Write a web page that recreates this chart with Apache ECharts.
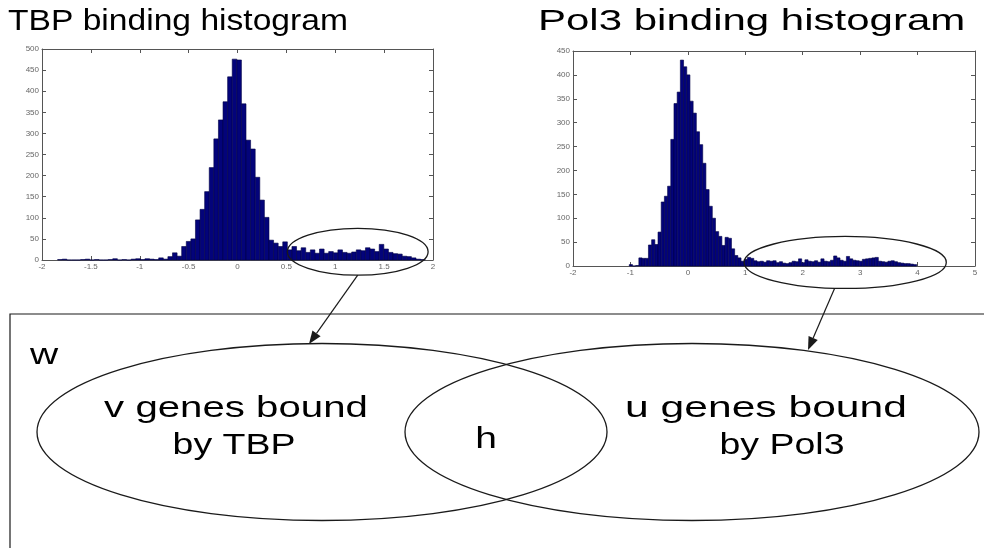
<!DOCTYPE html>
<html>
<head>
<meta charset="utf-8">
<script src="https://cdn.jsdelivr.net/npm/echarts@6/dist/echarts.min.js"></script>
<style>
  html, body { margin: 0; padding: 0; background: #fff; }
  #chart { width: 984px; height: 548px; }
</style>
</head>
<body>
<div id="chart"></div>
<script>
// TBP binding scores: 80 equal-width bins, counts per bin
const tbpBinStart = -1.84;
const tbpBinWidth = 0.047;
const tbpCounts = [
  1, 2, 0, 0, 0, 1, 2, 0, 1, 0,
  0, 1, 3, 0, 1, 0, 2, 3, 1, 3,
  2, 1, 5, 2, 8, 17, 9, 32, 44, 50,
  95, 120, 162, 219, 287, 332, 375, 434, 476, 474,
  370, 284, 263, 196, 142, 101, 47, 40, 32, 43,
  24, 32, 22, 29, 18, 24, 16, 26, 16, 20,
  17, 24, 18, 16, 19, 24, 22, 29, 26, 20,
  37, 26, 18, 15, 14, 9, 8, 5, 2, 1
];

// Pol3 binding scores: 90 equal-width bins, counts per bin
const pol3BinStart = -1.02;
const pol3BinWidth = 0.0556;
const pol3Counts = [
  3, 0, 1, 17, 16, 16, 44, 55, 45, 71,
  134, 146, 167, 265, 340, 364, 431, 417, 400, 345,
  320, 281, 254, 215, 160, 125, 100, 72, 62, 43,
  60, 58, 36, 22, 17, 10, 14, 18, 16, 11,
  9, 10, 8, 11, 10, 11, 7, 9, 6, 5,
  7, 10, 9, 15, 7, 13, 10, 9, 11, 8,
  15, 10, 9, 12, 21, 17, 12, 10, 20, 15,
  12, 11, 10, 14, 15, 16, 17, 18, 10, 9,
  8, 10, 11, 9, 7, 6, 5, 5, 4, 3
];

// Axis ranges and tick steps
const tbpXRange = [-2, 2], tbpXStep = 0.5;
const tbpYRange = [0, 500], tbpYStep = 50;
const pol3XRange = [-2, 5], pol3XStep = 1;
const pol3YRange = [0, 450], pol3YStep = 50;

// Tail regions circled on each histogram (data units)
const tbpTail = { x0: 0.51, x1: 1.95, y0: -36, y1: 75 };
const pol3Tail = { x0: 0.98, x1: 4.5, y0: -47, y1: 62 };

// Headings and Venn diagram labels
const titles = ['TBP binding histogram', 'Pol3 binding histogram'];
const vennLeft = ['v genes bound', 'by TBP'];
const vennRight = ['u genes bound', 'by Pol3'];
const vennOverlap = 'h';
const universeLabel = 'w';

function toBins(start, width, counts) {
  return counts.map((c, i) => [start + i * width, start + (i + 1) * width, c]);
}

function renderBar(params, api) {
  const top = api.coord([api.value(0), api.value(2)]);
  const base = api.coord([api.value(1), 0]);
  return {
    type: 'rect',
    shape: { x: top[0], y: top[1], width: base[0] - top[0], height: base[1] - top[1] },
    style: { fill: '#03037a', stroke: '#000045', lineWidth: 0.6 }
  };
}

const FONT = '"Liberation Sans", Arial, sans-serif';
const axisColor = '#555';

function xAxes(gridIndex, range, step) {
  const common = {
    type: 'value', gridIndex, min: range[0], max: range[1], interval: step,
    splitLine: { show: false },
    axisLine: { show: true, onZero: false, lineStyle: { color: axisColor, width: 1 } },
    axisTick: { show: true, inside: true, length: 4, lineStyle: { color: axisColor } }
  };
  return [
    Object.assign({}, common, {
      position: 'bottom',
      axisLabel: { show: true, fontSize: 8, color: '#666', margin: 3, fontFamily: FONT,
                   showMinLabel: true, showMaxLabel: true }
    }),
    Object.assign({}, common, { position: 'top', axisLabel: { show: false } })
  ];
}

function yAxes(gridIndex, range, step) {
  const common = {
    type: 'value', gridIndex, min: range[0], max: range[1], interval: step,
    splitLine: { show: false },
    axisLine: { show: true, onZero: false, lineStyle: { color: axisColor, width: 1 } },
    axisTick: { show: true, inside: true, length: 4, lineStyle: { color: axisColor } }
  };
  return [
    Object.assign({}, common, {
      position: 'left',
      axisLabel: { show: true, fontSize: 8, color: '#666', margin: 3, fontFamily: FONT }
    }),
    Object.assign({}, common, { position: 'right', axisLabel: { show: false } })
  ];
}

const chart = echarts.init(document.getElementById('chart'), null, { renderer: 'canvas' });

const tbpX = xAxes(0, tbpXRange, tbpXStep);
const pol3X = xAxes(1, pol3XRange, pol3XStep);
const tbpY = yAxes(0, tbpYRange, tbpYStep);
const pol3Y = yAxes(1, pol3YRange, pol3YStep);

chart.setOption({
  animation: false,
  backgroundColor: '#ffffff',
  grid: [
    { left: 42, top: 49, width: 391, height: 211 },
    { left: 573, top: 51, width: 402, height: 215 }
  ],
  xAxis: [tbpX[0], tbpX[1], pol3X[0], pol3X[1]],
  yAxis: [tbpY[0], tbpY[1], pol3Y[0], pol3Y[1]],
  series: [
    {
      type: 'custom', name: 'TBP', xAxisIndex: 0, yAxisIndex: 0,
      renderItem: renderBar, encode: { x: [0, 1], y: 2 },
      data: toBins(tbpBinStart, tbpBinWidth, tbpCounts), clip: false
    },
    {
      type: 'custom', name: 'Pol3', xAxisIndex: 2, yAxisIndex: 2,
      renderItem: renderBar, encode: { x: [0, 1], y: 2 },
      data: toBins(pol3BinStart, pol3BinWidth, pol3Counts), clip: false
    }
  ]
});

// Ellipse around a tail region, placed through the grid's own coordinate system
function tailEllipse(gridIndex, box) {
  const a = chart.convertToPixel({ gridIndex }, [box.x0, box.y1]);
  const b = chart.convertToPixel({ gridIndex }, [box.x1, box.y0]);
  return { cx: (a[0] + b[0]) / 2, cy: (a[1] + b[1]) / 2, rx: (b[0] - a[0]) / 2, ry: (b[1] - a[1]) / 2 };
}

function pointOn(e, deg) {
  const t = deg * Math.PI / 180;
  return [e.cx + e.rx * Math.cos(t), e.cy + e.ry * Math.sin(t)];
}

function arrow(from, to, color) {
  const dx = to[0] - from[0], dy = to[1] - from[1];
  const len = Math.sqrt(dx * dx + dy * dy);
  const ux = dx / len, uy = dy / len;
  const headLen = 13, headHalf = 5;
  const bx = to[0] - ux * headLen, by = to[1] - uy * headLen;
  return [
    { type: 'line', shape: { x1: from[0], y1: from[1], x2: bx, y2: by },
      style: { stroke: color, lineWidth: 1.2 }, z: 20 },
    { type: 'polygon',
      shape: { points: [to, [bx - uy * headHalf, by + ux * headHalf], [bx + uy * headHalf, by - ux * headHalf]] },
      style: { fill: color }, z: 20 }
  ];
}

function label(text, x, y, size, align, sx) {
  return {
    type: 'text', x, y, scaleX: sx, z: 30,
    style: { text, font: size + 'px ' + FONT, fill: '#000', textAlign: align, textVerticalAlign: 'middle' }
  };
}

const eT = tailEllipse(0, tbpTail);
const eP = tailEllipse(1, pol3Tail);
const ink = '#1a1a1a';

// Venn diagram geometry (pixels)
const venn = {
  box: { x: 10, y: 314, width: 1000, height: 260 },
  left: { cx: 322, cy: 432, rx: 285, ry: 88.5 },
  right: { cx: 692, cy: 432, rx: 287, ry: 88.5 }
};

const graphics = [
  label(titles[0], 8, 22, 30, 'left', 1.12),
  label(titles[1], 538, 22, 30, 'left', 1.4),
  { type: 'ellipse', shape: eT, style: { fill: 'none', stroke: ink, lineWidth: 1.3 }, z: 20 },
  { type: 'ellipse', shape: eP, style: { fill: 'none', stroke: ink, lineWidth: 1.3 }, z: 20 },
  { type: 'rect', shape: venn.box, style: { fill: 'none', stroke: ink, lineWidth: 1.2 }, z: 10 },
  { type: 'ellipse', shape: venn.left, style: { fill: 'none', stroke: ink, lineWidth: 1.3 }, z: 10 },
  { type: 'ellipse', shape: venn.right, style: { fill: 'none', stroke: ink, lineWidth: 1.3 }, z: 10 },
  label(universeLabel, 30, 356, 30, 'left', 1.3),
  label(vennLeft[0], 236, 409, 30, 'center', 1.34),
  label(vennLeft[1], 234, 446, 30, 'center', 1.25),
  label(vennOverlap, 486, 440, 30, 'center', 1.3),
  label(vennRight[0], 766, 409, 30, 'center', 1.42),
  label(vennRight[1], 782, 446, 30, 'center', 1.25)
].concat(
  arrow(pointOn(eT, 90), [309, 344], ink),
  arrow(pointOn(eP, 96), [808, 350], ink)
);

chart.setOption({ graphic: { elements: graphics } });
</script>
</body>
</html>
